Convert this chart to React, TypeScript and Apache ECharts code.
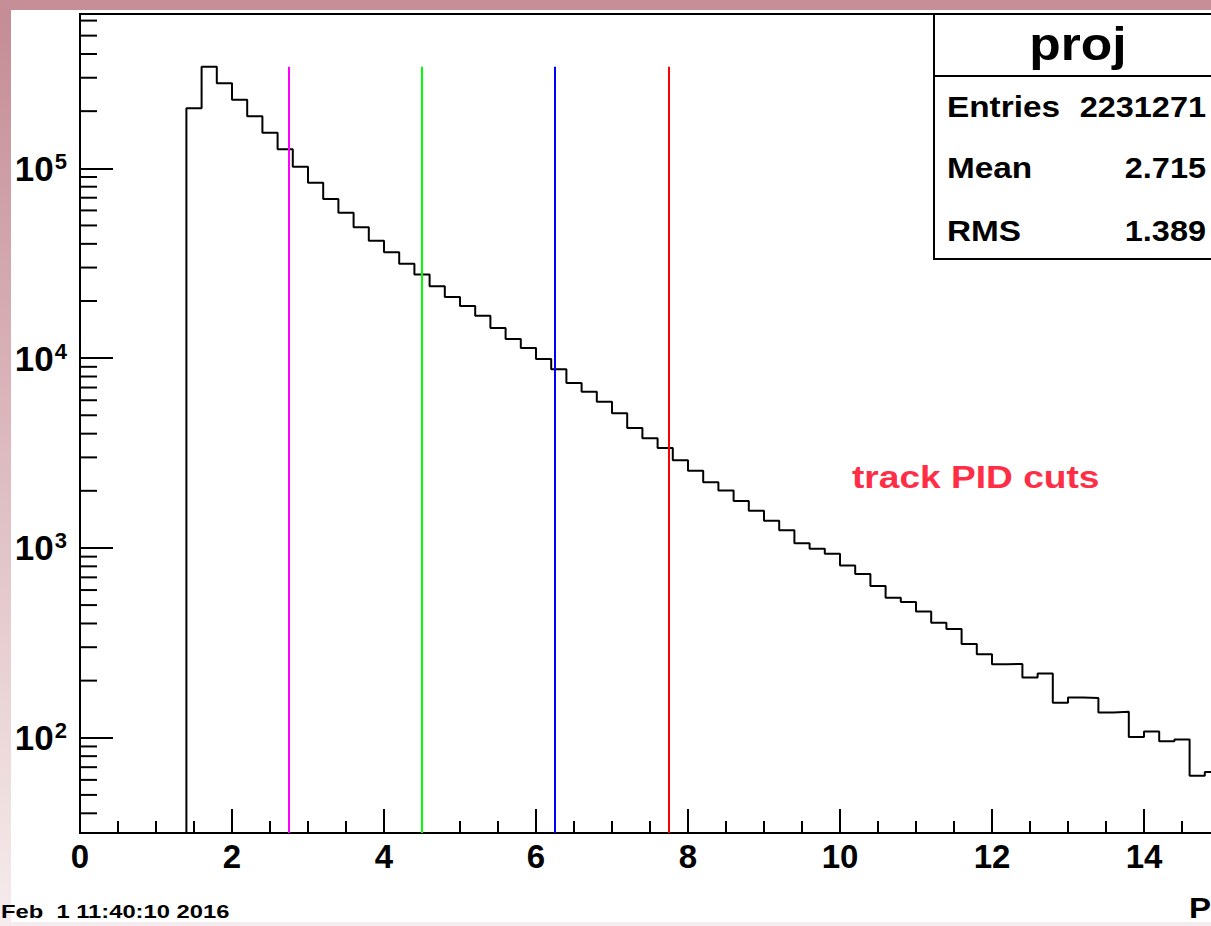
import React, { useEffect, useRef } from 'react';
import * as echarts from 'echarts';

// ---- data ----
const binStart = 1.4;
const binWidth = 0.2;
const counts = [
  207000, 343000, 281000, 230000, 188000, 154000, 126000, 102000,
  84000, 68900, 58300, 48900, 41500, 36100, 31400, 27600,
  23900, 21000, 18800, 16700, 14400, 12600, 11300, 9890,
  8730, 7390, 6660, 5890, 5120, 4280, 3780, 3360,
  2900, 2550, 2220, 2010, 1770, 1570, 1390, 1240,
  1060, 990, 931, 809, 728, 630, 547, 519,
  463, 404, 374, 312, 275, 244, 245, 208,
  218, 153, 163, 162, 136, 137, 101, 108,
  96, 98, 63, 66,
];
const cutValues = [2.75, 4.5, 6.25, 7.75];
const cutColors = ['#ff00ff', '#00ff00', '#0000ff', '#ff0000'];
const statsLabels = ['Entries', 'Mean', 'RMS'];
const statsValues = ['2231271', '2.715', '1.389'];
const histTitle = 'proj';
const annotation = 'track PID cuts';
const dateStamp = 'Feb  1 11:40:10 2016';
const axisTitle = 'P';
const xMin = 0;
const xMax = 16;
const xInterval = 2;
const yMin = 31.5;
const yMax = 650000;

const FONT = '"Liberation Sans", Arial, Helvetica, sans-serif';

export default function App() {
  const ref = useRef<HTMLDivElement>(null);

  useEffect(() => {
    if (!ref.current) return;
    const chart = echarts.init(ref.current, null, { renderer: 'svg' });

    // histogram outline points
    const pts: number[][] = [[binStart, yMin]];
    counts.forEach((c, i) => {
      const x0 = +(binStart + i * binWidth).toFixed(3);
      const x1 = +(binStart + (i + 1) * binWidth).toFixed(3);
      pts.push([x0, c], [x1, c]);
    });
    pts.push([+(binStart + counts.length * binWidth).toFixed(3), yMin]);
    const hMax = Math.max(...counts);

    // minor y ticks
    const minorY: number[][] = [];
    for (let e = 1; e <= 5; e++) {
      for (let m = 2; m <= 9; m++) {
        const v = m * Math.pow(10, e);
        if (v > yMin && v < yMax) minorY.push([xMin, v]);
      }
    }

    const cutSeries = cutValues.map((c, i) => ({
      type: 'line',
      data: [[c, yMin], [c, hMax]],
      symbol: 'none',
      lineStyle: { color: cutColors[i], width: 2 },
      silent: true,
      z: 3,
    }));

    const statsX = 934;
    const statsTop = 14;
    const statsBottom = 259;
    const rowY = [107, 168, 231];

    const option: any = {
      animation: false,
      backgroundColor: '#ffffff',
      grid: {
        left: 80,
        top: 14,
        width: 76 * (xMax - xMin),
        bottom: 93,
        containLabel: false,
        outerBoundsMode: 'none',
        show: true,
        borderColor: '#000',
        borderWidth: 2,
        backgroundColor: 'transparent',
      },
      xAxis: {
        type: 'value',
        min: xMin,
        max: xMax,
        interval: xInterval,
        axisLine: { show: true, lineStyle: { color: '#000', width: 2 } },
        axisTick: { show: true, inside: true, length: 24, lineStyle: { color: '#000', width: 2 } },
        minorTick: { show: true, splitNumber: 4, length: 12, lineStyle: { color: '#000', width: 2 } },
        splitLine: { show: false },
        axisLabel: {
          color: '#000',
          fontFamily: FONT,
          fontWeight: 'bold',
          fontSize: 33,
          margin: 7,
          showMaxLabel: false,
        },
      },
      yAxis: {
        type: 'log',
        logBase: 10,
        min: yMin,
        max: yMax,
        axisLine: { show: true, lineStyle: { color: '#000', width: 2 } },
        axisTick: { show: true, inside: true, length: 33, lineStyle: { color: '#000', width: 2 } },
        splitLine: { show: false },
        axisLabel: {
          margin: 13,
          formatter: (v: number) => {
            const l = Math.log10(v);
            const r = Math.round(l);
            if (Math.abs(l - r) > 1e-6) return '';
            return `{b|10}{s|${r}}`;
          },
          rich: {
            b: { fontFamily: FONT, fontWeight: 'bold', fontSize: 35, color: '#000', lineHeight: 36 },
            s: { fontFamily: FONT, fontWeight: 'bold', fontSize: 22, color: '#000', verticalAlign: 'top', lineHeight: 36, padding: [0, 0, 0, 1] },
          },
        },
      },
      series: [
        {
          type: 'line',
          data: pts,
          symbol: 'none',
          lineStyle: { color: '#000', width: 2 },
          silent: true,
          z: 2,
        },
        ...cutSeries,
        {
          type: 'custom',
          data: minorY,
          silent: true,
          clip: false,
          z: 4,
          renderItem: (params: any, api: any) => {
            const p = api.coord([api.value(0), api.value(1)]);
            return {
              type: 'line',
              shape: { x1: p[0], y1: p[1], x2: p[0] + 17, y2: p[1] },
              style: { stroke: '#000', lineWidth: 2 },
            };
          },
        },
      ],
      graphic: [
        // pink frame
        {
          type: 'rect',
          shape: { x: 0, y: 0, width: 11, height: 926 },
          style: {
            fill: new echarts.graphic.LinearGradient(0, 0, 0, 1, [
              { offset: 0, color: '#c48b94' },
              { offset: 1, color: '#f6eced' },
            ]),
          },
          silent: true,
          z: 10,
        },
        {
          type: 'rect',
          shape: { x: 0, y: 0, width: 1211, height: 10 },
          style: { fill: '#c68e96' },
          silent: true,
          z: 10,
        },
        {
          type: 'rect',
          shape: { x: 0, y: 922, width: 1211, height: 4 },
          style: { fill: '#f4ecee' },
          silent: true,
          z: 8,
        },
        // stats box
        {
          type: 'rect',
          shape: { x: statsX, y: statsTop, width: 320, height: statsBottom - statsTop },
          style: { fill: '#fff', stroke: '#000', lineWidth: 2 },
          silent: true,
          z: 20,
        },
        {
          type: 'line',
          shape: { x1: statsX, y1: 76, x2: 1260, y2: 76 },
          style: { stroke: '#000', lineWidth: 2 },
          silent: true,
          z: 21,
        },
        {
          type: 'text',
          x: 1078,
          y: 44,
          scaleX: 1.12,
          style: {
            text: histTitle,
            fontFamily: FONT,
            fontWeight: 'bold',
            fontSize: 46,
            fill: '#000',
            align: 'center',
            verticalAlign: 'middle',
          },
          silent: true,
          z: 21,
        },
        ...statsLabels.map((s, i) => ({
          type: 'text',
          x: 947,
          y: rowY[i],
          scaleX: 1.15,
          style: {
            text: s,
            fontFamily: FONT,
            fontWeight: 'bold',
            fontSize: 29,
            fill: '#000',
            align: 'left',
            verticalAlign: 'middle',
          },
          silent: true,
          z: 21,
        })),
        ...statsValues.map((s, i) => ({
          type: 'text',
          x: 1206,
          y: rowY[i],
          scaleX: 1.12,
          style: {
            text: s,
            fontFamily: FONT,
            fontWeight: 'bold',
            fontSize: 29,
            fill: '#000',
            align: 'right',
            verticalAlign: 'middle',
          },
          silent: true,
          z: 21,
        })),
        {
          type: 'text',
          x: 852,
          y: 477,
          scaleX: 1.16,
          style: {
            text: annotation,
            fontFamily: FONT,
            fontWeight: 'bold',
            fontSize: 32,
            fill: '#ff2d45',
            align: 'left',
            verticalAlign: 'middle',
          },
          silent: true,
          z: 21,
        },
        {
          type: 'text',
          x: 1,
          y: 912,
          scaleX: 1.25,
          style: {
            text: dateStamp,
            fontFamily: FONT,
            fontWeight: 'bold',
            fontSize: 19,
            fill: '#000',
            align: 'left',
            verticalAlign: 'middle',
          },
          silent: true,
          z: 12,
        },
        {
          type: 'text',
          x: 1189,
          y: 908,
          scaleX: 1.1,
          style: {
            text: axisTitle,
            fontFamily: FONT,
            fontWeight: 'bold',
            fontSize: 30,
            fill: '#000',
            align: 'left',
            verticalAlign: 'middle',
          },
          silent: true,
          z: 12,
        },
      ],
    };

    chart.setOption(option);
    return () => chart.dispose();
  }, []);

  return (
    <div
      ref={ref}
      style={{ position: 'absolute', left: 0, top: 0, width: 1211, height: 926, overflow: 'hidden' }}
    />
  );
}
